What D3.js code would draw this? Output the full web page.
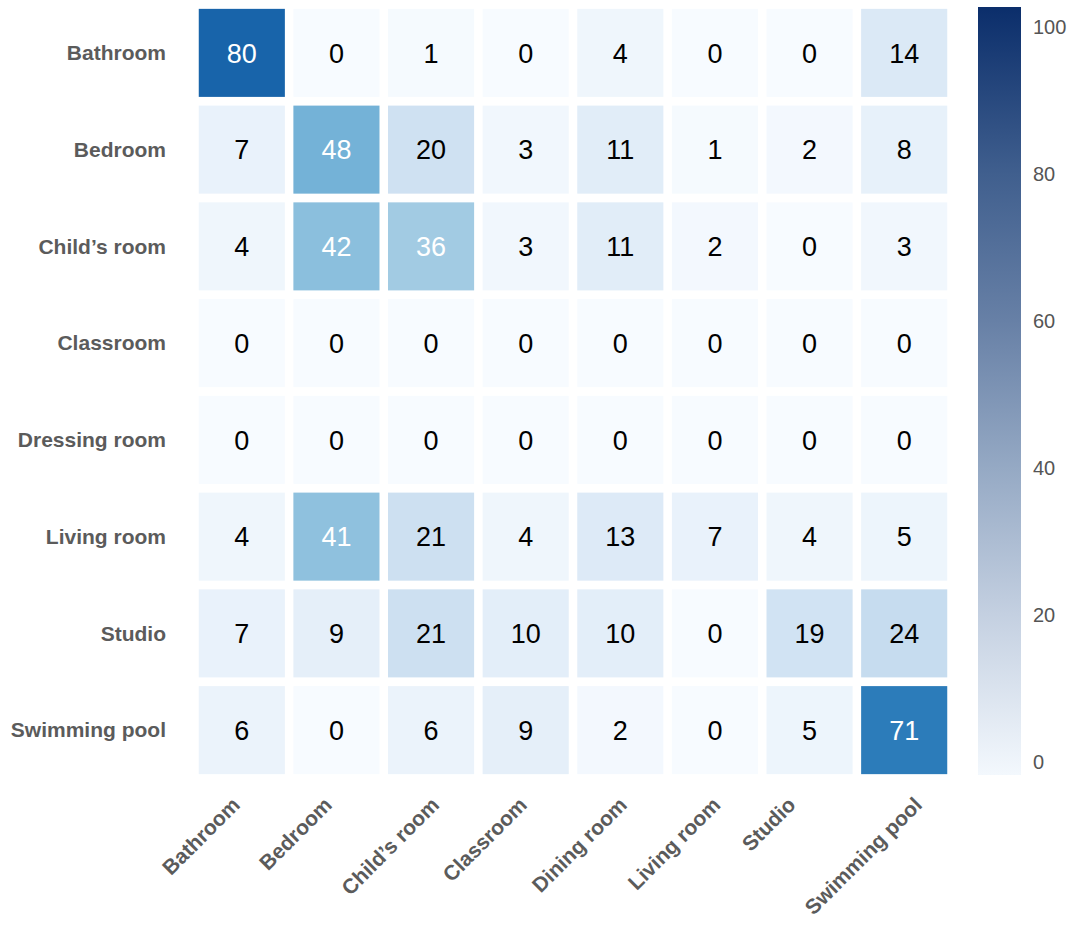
<!DOCTYPE html>
<html>
<head>
<meta charset="utf-8">
<script src="https://cdn.jsdelivr.net/npm/d3@7"></script>
<style>
  body { margin: 0; background: #fff; }
  text { font-family: "Liberation Sans", Arial, sans-serif; }
</style>
</head>
<body>
<svg id="chart" width="1080" height="926"></svg>
<script>
// rows = true class, columns = predicted class
const rowLabels = ['Bathroom', 'Bedroom', 'Child\u2019s room', 'Classroom', 'Dressing room', 'Living room', 'Studio', 'Swimming pool'];
const colLabels = ['Bathroom', 'Bedroom', 'Child\u2019s room', 'Classroom', 'Dining room', 'Living room', 'Studio', 'Swimming pool'];
const values = [
    [80, 0, 1, 0, 4, 0, 0, 14],
    [7, 48, 20, 3, 11, 1, 2, 8],
    [4, 42, 36, 3, 11, 2, 0, 3],
    [0, 0, 0, 0, 0, 0, 0, 0],
    [0, 0, 0, 0, 0, 0, 0, 0],
    [4, 41, 21, 4, 13, 7, 4, 5],
    [7, 9, 21, 10, 10, 0, 19, 24],
    [6, 0, 6, 9, 2, 0, 5, 71]
];
const colorbarTicks = [0, 20, 40, 60, 80, 100];
const colorbarDomain = [-1.8, 102.7];

const svg = d3.select('#chart');

const x = d3.scaleBand().domain(colLabels).range([194.5, 951.5]).paddingInner(0.09).paddingOuter(0.045);
const y = d3.scaleBand().domain(rowLabels).range([4.5, 778.5]).paddingInner(0.09).paddingOuter(0.045);
const color = v => d3.interpolateBlues(v / 100);

// flatten into cells
let cells = [];
values.forEach((row, i) => {
    row.forEach((v, j) => {
        cells.push({ row: rowLabels[i], col: colLabels[j], value: v });
    });
});

const cell = svg.append('g')
    .selectAll('g')
    .data(cells)
    .enter()
    .append('g');

cell.append('rect')
    .attr('x', d => x(d.col))
    .attr('y', d => y(d.row))
    .attr('width', x.bandwidth())
    .attr('height', y.bandwidth())
    .attr('fill', d => color(d.value));

cell.append('text')
    .attr('x', d => x(d.col) + x.bandwidth() / 2)
    .attr('y', d => y(d.row) + y.bandwidth() / 2)
    .attr('dy', '0.36em')
    .attr('text-anchor', 'middle')
    .style('font-size', '27px')
    .style('fill', d => d.value > 30 ? '#fff' : '#000')
    .text(d => d.value);

// row labels
svg.append('g')
    .selectAll('text')
    .data(rowLabels)
    .enter()
    .append('text')
    .attr('x', 166)
    .attr('y', d => y(d) + y.bandwidth() / 2)
    .attr('dy', '0.35em')
    .attr('text-anchor', 'end')
    .style('font-size', '21px')
    .style('font-weight', 'bold')
    .style('fill', '#5b5b5b')
    .text(d => d);

// column labels, rotated; centred a bit left of the cell, tops lined up
const colText = svg.append('g')
    .selectAll('text')
    .data(colLabels)
    .enter()
    .append('text')
    .attr('dy', '0.35em')
    .attr('text-anchor', 'middle')
    .style('font-size', '21px')
    .style('font-weight', 'bold')
    .style('fill', '#5b5b5b')
    .text(d => d);

colText.attr('transform', function(d) {
    const len = this.getComputedTextLength();
    const mx = x(d) + x.bandwidth() / 2 - 41;
    const my = 801 + len * 0.3536;
    return `translate(${mx},${my}) rotate(-45)`;
});

// colorbar
const cb = d3.scaleLinear().domain(colorbarDomain).range([775, 7]);
const stops = [
    { v: colorbarDomain[0], c: '#f3f8fd' },
    { v: 20, c: '#c4d0e1' },
    { v: 40, c: '#95a9c4' },
    { v: 60, c: '#6780a6' },
    { v: 80, c: '#405f8e' },
    { v: colorbarDomain[1], c: '#0b2e6b' }
];
const defs = svg.append('defs');
const grad = defs.append('linearGradient')
    .attr('id', 'cbgrad')
    .attr('x1', 0).attr('x2', 0)
    .attr('y1', 1).attr('y2', 0);
grad.selectAll('stop')
    .data(stops)
    .enter()
    .append('stop')
    .attr('offset', d => (d.v - colorbarDomain[0]) / (colorbarDomain[1] - colorbarDomain[0]))
    .attr('stop-color', d => d.c);

svg.append('rect')
    .attr('x', 978)
    .attr('y', cb.range()[1])
    .attr('width', 43)
    .attr('height', cb.range()[0] - cb.range()[1])
    .attr('fill', 'url(#cbgrad)');

svg.append('g')
    .selectAll('text')
    .data(colorbarTicks)
    .enter()
    .append('text')
    .attr('x', 1033)
    .attr('y', d => cb(d))
    .attr('dy', '0.35em')
    .style('font-size', '20px')
    .style('fill', '#555')
    .text(d => d);
</script>
</body>
</html>
